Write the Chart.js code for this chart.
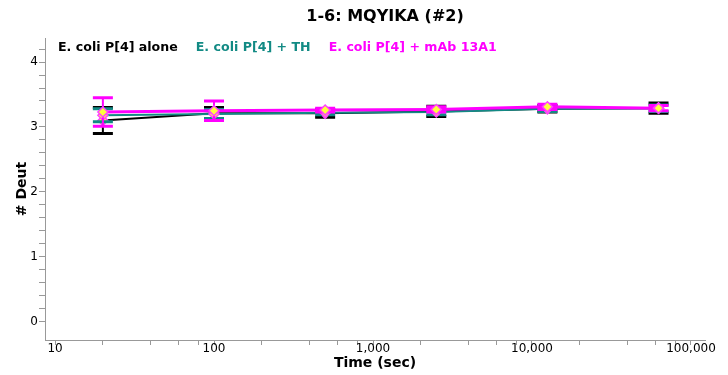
<!DOCTYPE html>
<html>
<head>
<meta charset="utf-8">
<script src="https://cdn.jsdelivr.net/npm/chart.js@4/dist/chart.umd.min.js"></script>
<style>
  html, body { margin: 0; padding: 0; background: #fff; }
  #wrap { width: 728px; height: 375px; }
</style>
</head>
<body>
<div id="wrap"><canvas id="chart"></canvas></div>
<script>
const times = [20, 100, 500, 2500, 12500, 62500];
const seriesNames = ['E. coli P[4] alone', 'E. coli P[4] + TH', 'E. coli P[4] + mAb 13A1'];
const aloneDeut = [3.10, 3.21, 3.21, 3.24, 3.28, 3.29];
const aloneErr = [0.20, 0.09, 0.06, 0.08, 0.05, 0.08];
const thDeut = [3.18, 3.20, 3.22, 3.23, 3.28, 3.29];
const thErr = [0.10, 0.07, 0.03, 0.04, 0.04, 0.05];
const mabDeut = [3.23, 3.25, 3.26, 3.27, 3.31, 3.29];
const mabErr = [0.22, 0.15, 0.03, 0.04, 0.04, 0.04];
const xTicks = [10, 20, 40, 60, 80, 100, 200, 400, 600, 800, 1000, 2000, 4000, 6000, 8000,
  10000, 20000, 40000, 60000, 80000, 100000];
const yTicks = [0, 0.2, 0.4, 0.6, 0.8, 1, 1.2, 1.4, 1.6, 1.8, 2, 2.2, 2.4, 2.6, 2.8, 3,
  3.2, 3.4, 3.6, 3.8, 4, 4.2];
const chartTitle = '1-6: MQYIKA (#2)';

const colors = ['#000000', '#128a84', '#ff00ff'];
const FONT = "'DejaVu Sans', sans-serif";

const toPoints = vals => times.map((t, i) => ({ x: t, y: vals[i] }));

// error bars drawn right before each line so the line/markers sit on top
const errorBars = {
  id: 'errorBars',
  beforeDatasetDraw(chart, args) {
    const ds = chart.data.datasets[args.index];
    const yScale = chart.scales.y;
    const ctx = chart.ctx;
    ctx.save();
    ctx.strokeStyle = ds.borderColor;
    args.meta.data.forEach((pt, i) => {
      const v = ds.data[i].y, e = ds.errors[i];
      const top = yScale.getPixelForValue(v + e);
      const bot = yScale.getPixelForValue(v - e);
      ctx.lineWidth = 2;
      ctx.beginPath();
      ctx.moveTo(pt.x, top); ctx.lineTo(pt.x, bot);
      ctx.stroke();
      ctx.lineWidth = 3;
      ctx.beginPath();
      ctx.moveTo(pt.x - 10, top); ctx.lineTo(pt.x + 10, top);
      ctx.moveTo(pt.x - 10, bot); ctx.lineTo(pt.x + 10, bot);
      ctx.stroke();
    });
    ctx.restore();
  }
};

// title a bit right of the plot centre, series names inline across the top
const headerText = {
  id: 'headerText',
  afterDraw(chart) {
    const ctx = chart.ctx;
    const area = chart.chartArea;
    ctx.save();
    ctx.fillStyle = '#000';
    ctx.font = 'bold 16px ' + FONT;
    ctx.textAlign = 'center';
    ctx.textBaseline = 'middle';
    ctx.fillText(chartTitle, (area.left + area.right) / 2 + 10, 17);
    ctx.font = 'bold 12.6px ' + FONT;
    ctx.textAlign = 'left';
    let x = area.left + 13;
    seriesNames.forEach((name, i) => {
      ctx.fillStyle = colors[i];
      ctx.fillText(name, x, 48);
      x += ctx.measureText(name).width + 18;
    });
    ctx.restore();
  }
};

const makeSet = (label, vals, errs, i) => ({
  label,
  data: toPoints(vals),
  errors: errs,
  borderColor: colors[i],
  borderWidth: i === 2 ? 3 : 2,
  tension: 0,
  pointStyle: 'rectRot',
  pointRadius: 5,
  pointBackgroundColor: '#ffff3c',
  pointBorderColor: '#ff40ff',
  pointBorderWidth: 1.5,
  order: 2 - i
});

new Chart(document.getElementById('chart'), {
  type: 'line',
  data: {
    datasets: [
      makeSet(seriesNames[0], aloneDeut, aloneErr, 0),
      makeSet(seriesNames[1], thDeut, thErr, 1),
      makeSet(seriesNames[2], mabDeut, mabErr, 2)
    ]
  },
  options: {
    responsive: true,
    maintainAspectRatio: false,
    animation: false,
    layout: { padding: { left: 0, right: 23, top: 38, bottom: 0 } },
    plugins: {
      legend: { display: false },
      tooltip: { enabled: false },
      title: { display: false }
    },
    scales: {
      x: {
        type: 'logarithmic',
        min: 8.65,
        max: 122500,
        afterBuildTicks: s => { s.ticks = xTicks.map(v => ({ value: v })); },
        afterFit: s => { s.height = 35; },
        border: { color: '#999', width: 1 },
        grid: { drawOnChartArea: false, tickLength: 5, color: '#999' },
        ticks: {
          color: '#000',
          autoSkip: false,
          maxRotation: 0,
          padding: -3,
          font: { family: FONT, size: 12 },
          callback: v => [10, 100, 1000, 10000, 100000].includes(v) ? v.toLocaleString('en-US') : ''
        },
        title: {
          display: true,
          text: 'Time (sec)',
          color: '#000',
          font: { family: FONT, size: 14, weight: 'bold' },
          padding: { top: 0, bottom: 3 }
        }
      },
      y: {
        min: -0.28,
        max: 4.37,
        afterBuildTicks: s => { s.ticks = yTicks.map(v => ({ value: v })); },
        afterFit: s => { s.width = 45; },
        border: { color: '#999', width: 1 },
        grid: { drawOnChartArea: false, tickLength: 6, color: '#999' },
        ticks: {
          color: '#000',
          autoSkip: false,
          padding: 1,
          font: { family: FONT, size: 12 },
          callback: v => Number.isInteger(Math.round(v * 1000) / 1000) ? String(Math.round(v)) : ''
        },
        title: {
          display: true,
          text: '# Deut',
          color: '#000',
          font: { family: FONT, size: 14, weight: 'bold' },
          padding: { top: 14, bottom: 0 }
        }
      }
    }
  },
  plugins: [errorBars, headerText]
});
</script>
</body>
</html>
